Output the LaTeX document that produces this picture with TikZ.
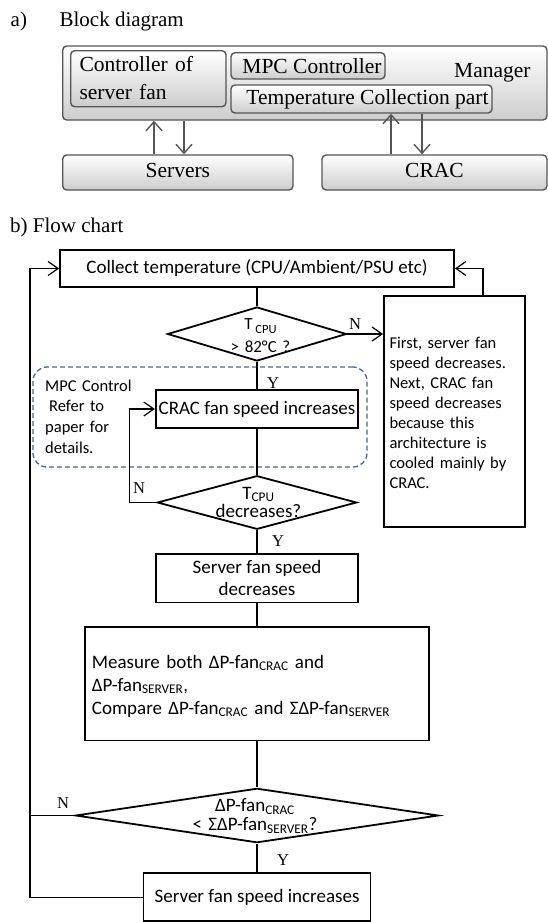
\documentclass[tikz,border=0pt]{standalone}
\usepackage{fontspec}
\setmainfont{Liberation Serif}
\newfontfamily\calfont{Carlito}
\usetikzlibrary{shapes.geometric,arrows.meta}

\definecolor{bdline}{RGB}{85,85,85}
\definecolor{bdfill}{RGB}{205,205,205}
\definecolor{mpcblue}{RGB}{72,104,150}

\tikzset{
  lbl/.style={inner sep=0pt, font=\fontsize{21}{25}\selectfont},
  bdbox/.style={draw=bdline, line width=1.4pt, rounded corners=4pt,
    top color=white, bottom color=bdfill, inner sep=0pt,
    font=\fontsize{21.5}{27.6}\selectfont},
  bdtext/.style={inner sep=0pt, font=\fontsize{21.5}{27.6}\selectfont},
  bdarrow/.style={draw=bdline, line width=1.4pt,
    -{Straight Barb[length=9pt,width=16pt]}},
  fbox/.style={draw, line width=1.8pt, inner sep=0pt, align=center,
    font=\calfont\fontsize{19}{22}\selectfont},
  fdia/.style={diamond, draw, line width=1.8pt, inner sep=0pt},
  ftext/.style={inner sep=0pt, font=\calfont\fontsize{19}{23}\selectfont},
  yn/.style={inner sep=0pt, font=\fontsize{16.5}{18}\selectfont},
  conn/.style={line width=1.2pt},
  arr/.style={line width=1.2pt, -{Straight Barb[length=10pt,width=14pt]}},
  mpcbox/.style={draw=mpcblue, line width=1.3pt, dash pattern=on 5pt off 3pt,
    rounded corners=14pt, inner sep=0pt},
}

\begin{document}
\begin{tikzpicture}[x=1pt,y=-1pt]
\useasboundingbox (0,0) rectangle (548,922);
\fill[white] (0,0) rectangle (548,922);

% ---------------- a) block diagram ----------------
\node[lbl, anchor=base west] (la) at (10.5,26.7) {a)};
\node[lbl, anchor=base west] (lat) at (59.4,26.7) {Block diagram};

\node[bdbox, minimum width=484.3pt, minimum height=74pt] (manager) at (304.85,83) {};
\node[bdtext, anchor=base west] (managert) at (454,77) {Manager};

\node[bdbox, minimum width=155.3pt, minimum height=56pt] (ctrl) at (148.35,78.7) {};
\node[bdtext, text width=140pt, align=left, anchor=base west] (ctrlt) at (79.3,71.7)
  {Controller of\\server fan};

\node[bdbox, minimum width=154pt, minimum height=26.3pt] (mpcc) at (308,65.85)
  {\hspace*{8pt}MPC Controller};
\node[bdbox, minimum width=261pt, minimum height=28pt] (temp) at (361.5,99)
  {\hspace*{12pt}Temperature Collection part};

\node[bdbox, minimum width=230.3pt, minimum height=35pt] (servers) at (177.85,172.5)
  {\raisebox{4pt}{Servers}};
\node[bdbox, minimum width=225pt, minimum height=35pt] (crac0) at (434.5,172.5)
  {\raisebox{4pt}{CRAC}};

\coordinate (xs1) at (154,0);
\coordinate (xs2) at (184,0);
\coordinate (xc1) at (391,0);
\coordinate (xc2) at (422,0);
\draw[bdarrow] (servers.north -| xs1) -- (manager.south -| xs1);
\draw[bdarrow] (manager.south -| xs2) -- (servers.north -| xs2);
\draw[bdarrow] (crac0.north -| xc1) -- (temp.south -| xc1);
\draw[bdarrow] (temp.south -| xc2) -- (crac0.north -| xc2);

% ---------------- b) flow chart ----------------
\node[lbl, anchor=base west] (lb) at (10,232) {b) Flow chart};

\node[mpcbox, minimum width=334pt, minimum height=100pt] (mpc) at (200,417) {};
\node[ftext, font=\calfont\fontsize{16.5}{20.7}\selectfont, text width=100pt,
  align=left, anchor=base west] (mpct) at (45,391)
  {MPC Control\\\hspace*{4pt}Refer to\\paper for\\details.};

\node[fbox, minimum width=394pt, minimum height=37pt] (collect) at (257,268.5)
  {\raisebox{-2pt}{Collect temperature (CPU/Ambient/PSU etc)}};

\node[fdia, minimum width=179pt, minimum height=54pt] (d1) at (257,334) {};
\node[ftext, font=\calfont\fontsize{17}{23}\selectfont, text width=100pt,
  align=center, anchor=base] (d1t) at (260.5,329)
  {T\,\raisebox{-4pt}{\fontsize{12.5}{12.5}\selectfont CPU}\\> 82°C ?};

\node[fbox, minimum width=202.5pt, minimum height=38pt] (crac) at (257,409)
  {\raisebox{-2.5pt}{CRAC fan speed increases}};

\node[fbox, minimum width=141pt, minimum height=231pt] (note) at (454.5,411.5) {};
\node[ftext, font=\calfont\fontsize{16.5}{20}\selectfont, text width=134pt, align=left,
  anchor=base west] (notet) at (389.3,348)
  {First, server fan\\speed decreases.\\Next, CRAC fan\\speed decreases\\because this\\architecture is\\cooled mainly by\\CRAC.};

\node[fdia, minimum width=199.5pt, minimum height=53.6pt] (d2) at (257,502.5) {};
\node[ftext, font=\calfont\fontsize{19}{18.5}\selectfont, text width=120pt,
  align=center, anchor=base] (d2t) at (258.5,499) {T\textsubscript{CPU}\\decreases?};

\node[fbox, minimum width=202.7pt, minimum height=48.5pt] (sdec) at (257,578.3)
  {Server fan speed\\decreases};

\node[fbox, minimum width=343.5pt, minimum height=113.5pt] (meas) at (257,683.75) {};
\node[ftext, text width=330pt, align=left, anchor=base west] (meast) at (91.7,668)
  {Measure both ΔP-fan\textsubscript{CRAC} and\\ΔP-fan\textsubscript{SERVER},\\Compare ΔP-fan\textsubscript{CRAC} and ΣΔP-fan\textsubscript{SERVER}};

\node[fdia, minimum width=363pt, minimum height=54.4pt] (d3) at (257,815.5) {};
\node[ftext, font=\calfont\fontsize{19}{19}\selectfont, text width=160pt,
  align=center, anchor=base] (d3t) at (255,811.5)
  {ΔP-fan\textsubscript{CRAC}\\< ΣΔP-fan\textsubscript{SERVER}?};

\node[fbox, minimum width=227pt, minimum height=47.7pt] (sinc) at (257,897.2)
  {Server fan speed increases};

% loop guides
\coordinate (lloop) at (30,0);
\coordinate (nloop) at (129.3,0);
\coordinate (rloop) at (483,0);

% connectors
\draw[conn] (collect.south) -- (d1.north);
\draw[conn] (d1.south) -- (crac.north);
\draw[arr] (d1.east) -- (d1.east -| note.west);
\draw[arr] (note.north -| rloop) |- (collect.east);
\draw[conn] (crac.south) -- (d2.north);
\draw[arr] (d2.west) -| (nloop |- crac.west) -- (crac.west);
\draw[conn] (d2.south) -- (sdec.north);
\draw[conn] (sdec.south) -- (meas.north);
\draw[conn] (meas.south) -- (d3.north);
\draw[conn] (d3.south) -- (sinc.north);
\draw[conn] (d3.west) -- (d3.west -| lloop);
\draw[arr] (sinc.west) -| (lloop |- collect.west) -- (collect.west);

% branch labels
\node[yn] (y1) at (273,383) {Y};
\node[yn] (n1) at (355,324) {N};
\node[yn] (n2) at (139,488) {N};
\node[yn] (y2) at (278,541) {Y};
\node[yn] (n3) at (63,803.5) {N};
\node[yn] (y3) at (283,860) {Y};
\end{tikzpicture}
\end{document}
